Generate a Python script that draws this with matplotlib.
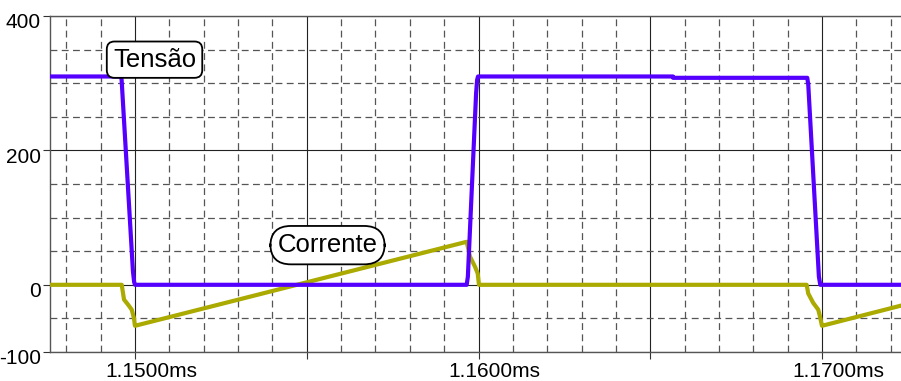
import matplotlib
matplotlib.use("Agg")
import matplotlib.pyplot as plt
import matplotlib.transforms as mtransforms
from matplotlib.ticker import FixedLocator, FuncFormatter

plt.rcParams['font.family'] = ['Liberation Sans', 'DejaVu Sans']

# Tensão (V) vs time (ms)
t_tensao = [1.147525, 1.149592, 1.149610, 1.149940, 1.149975, 1.150000,
            1.159656, 1.159690, 1.159930, 1.159960, 1.159985,
            1.165660, 1.165665, 1.169571, 1.169600, 1.169910, 1.169950, 1.172300]
v_tensao = [310, 310, 305, 20, 4, 0,
            0, 12, 285, 305, 310,
            310, 308, 308, 298, 12, 0, 0]

# Corrente vs time (ms)
t_corrente = [1.147525, 1.149613, 1.149680, 1.149805, 1.149904, 1.149971, 1.149991, 1.150000,
              1.159656, 1.159752, 1.159897, 1.159976, 1.160014,
              1.169553, 1.169600, 1.169745, 1.169891, 1.169940, 1.169990, 1.170000,
              1.172300]
i_corrente = [0, 0, -22, -30, -37, -50, -59, -61,
              64, 42, 27, 17, 0,
              0, -13, -27, -37, -47, -59, -61,
              -31]

x_limits = (1.147525, 1.17230)
y_limits = (-100, 400)
y_major = [-100, 0, 200, 400]
y_minor = [-50, 50, 100, 150, 250, 300, 350]
x_major = [1.145, 1.150, 1.155, 1.160, 1.165, 1.170]
x_labeled = [1.150, 1.160, 1.170]

fig = plt.figure(figsize=(9.01, 3.81), dpi=100)
ax = fig.add_axes([50 / 901, (381 - 352) / 381, 1 - 50 / 901, (352 - 16) / 381])

ax.set_xlim(*x_limits)
ax.set_ylim(*y_limits)

x_minor = [round(1.145 + k * 0.001, 4) for k in range(0, 30)]
x_minor = [v for v in x_minor if all(abs(v - m) > 1e-7 for m in x_major)]

ax.xaxis.set_major_locator(FixedLocator(x_major))
ax.xaxis.set_minor_locator(FixedLocator(x_minor))
ax.yaxis.set_major_locator(FixedLocator(y_major))
ax.yaxis.set_minor_locator(FixedLocator(y_minor))


def fmt_x(v, pos):
    if any(abs(v - m) < 1e-7 for m in x_labeled):
        return f"{v:.4f}ms"
    return ""


ax.xaxis.set_major_formatter(FuncFormatter(fmt_x))
ax.yaxis.set_major_formatter(FuncFormatter(lambda v, p: f"{v:.0f}"))

ax.grid(which='major', color='#222222', linewidth=0.8, linestyle='-')
ax.grid(which='minor', color='#555555', linewidth=0.9, linestyle=(0, (5.5, 3.5)))
ax.set_axisbelow(True)

ax.tick_params(which='major', direction='out', length=5, width=0.8, color='#333333',
               labelsize=15, pad=1.5, labelcolor='black')
ax.tick_params(which='minor', length=0)

for side in ['top', 'bottom', 'left', 'right']:
    ax.spines[side].set_color('#555555')
    ax.spines[side].set_linewidth(1.0)
ax.spines['right'].set_visible(False)

# y tick labels sit a little below their lines; x labels center on the number part
y_offset = mtransforms.ScaledTranslation(0, -5 / 100, fig.dpi_scale_trans)
for lbl in ax.get_yticklabels():
    lbl.set_transform(lbl.get_transform() + y_offset)
x_offset = mtransforms.ScaledTranslation(16 / 100, -1 / 100, fig.dpi_scale_trans)
for lbl in ax.get_xticklabels():
    lbl.set_transform(lbl.get_transform() + x_offset)

ax.plot(t_corrente, i_corrente, color='#aaaa00', linewidth=3.0, solid_joinstyle='round', zorder=3)
ax.plot(t_tensao, v_tensao, color='#5500ff', linewidth=3.0, solid_joinstyle='round', zorder=4)

ax.text(1.150568, 335, "Tensão", fontsize=18.5, ha='center', va='center', zorder=6,
        bbox=dict(boxstyle="round,pad=0.24,rounding_size=0.3", fc='white', ec='black', lw=1.3))
ax.text(1.155604, 59, "Corrente", fontsize=18.5, ha='center', va='center', zorder=6,
        bbox=dict(boxstyle="round,pad=0.28,rounding_size=0.8", fc='white', ec='black', lw=1.3))

fig.savefig("out.png", dpi=100)
